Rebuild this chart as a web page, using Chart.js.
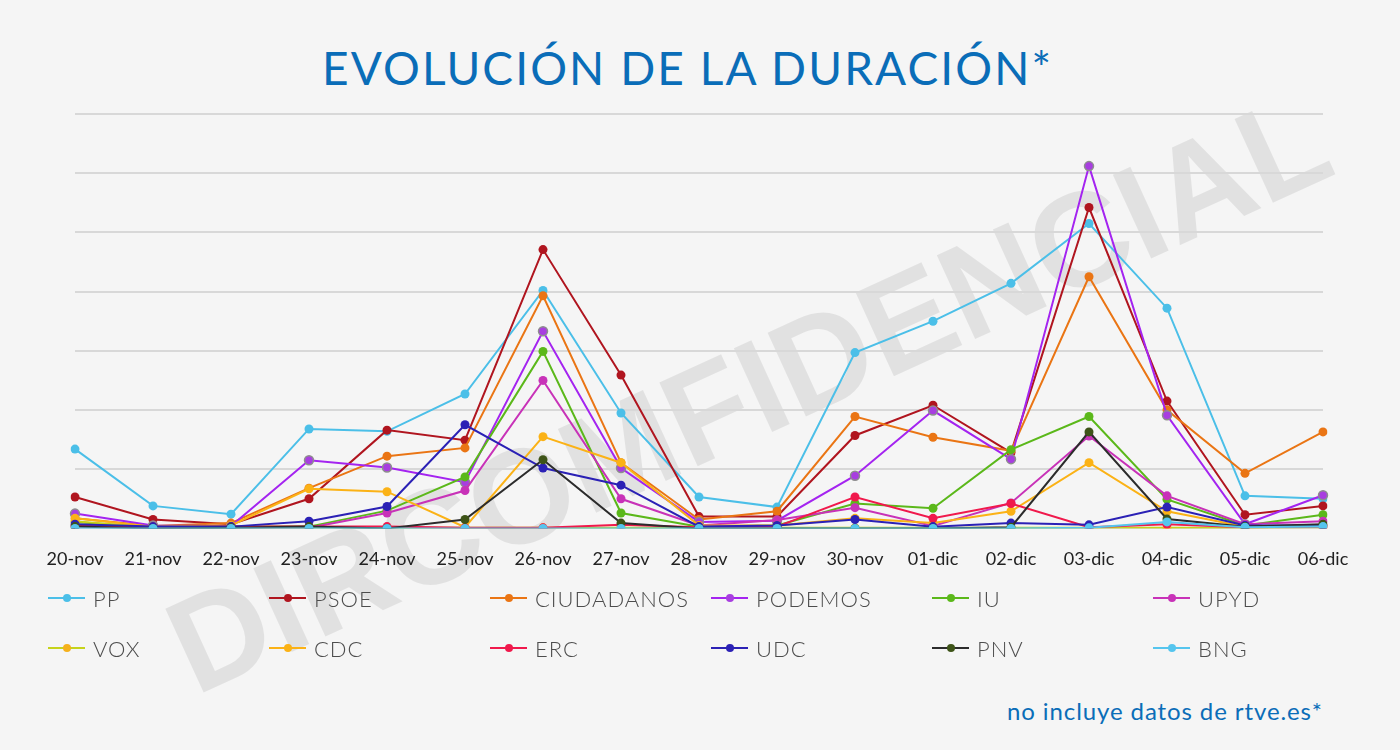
<!DOCTYPE html>
<html>
<head>
<meta charset="utf-8">
<script src="https://cdn.jsdelivr.net/npm/chart.js@4"></script>
<style>
  html, body { margin: 0; padding: 0; }
  body { width: 1400px; height: 750px; background: #f5f5f5; position: relative; overflow: hidden; font-family: Lato, "Open Sans", sans-serif; }
  .title { position: absolute; left: 322px; top: 40px; font-size: 46px; color: #0a6db8; letter-spacing: 2.1px; white-space: nowrap; }
  .watermark { position: absolute; left: 748px; top: 392px; transform: translate(-50%, -50%) rotate(-24.6deg); font-family: "Liberation Sans", Arial, sans-serif; font-weight: bold; font-size: 134px; color: rgba(0,0,0,0.08); white-space: nowrap; z-index: 0; }
  .chart-box { position: absolute; left: 0; top: 0; width: 1400px; height: 590px; z-index: 1; }
  .legend { position: absolute; left: 48px; top: 586px; display: grid; grid-template-columns: repeat(6, 221px); row-gap: 26px; z-index: 1; }
  .legend-item { display: flex; align-items: center; height: 24px; font-size: 22px; font-weight: 300; letter-spacing: 1px; color: #4d4d4d; }
  .legend-line { position: relative; width: 37px; height: 2px; margin-right: 8px; }
  .legend-dot { position: absolute; left: 15px; top: -3px; width: 8px; height: 8px; border-radius: 50%; }
  .note { position: absolute; left: 1007px; top: 696px; font-size: 24px; letter-spacing: 0.9px; color: #0a6db8; z-index: 1; white-space: nowrap; }
</style>
</head>
<body>
<div class="title">EVOLUCIÓN DE LA DURACIÓN*</div>
<div class="watermark">DIRCOMFIDENCIAL</div>
<div class="chart-box"><canvas id="chart" width="1400" height="590"></canvas></div>
<div class="legend" id="legend"></div>
<div class="note">no incluye datos de rtve.es*</div>
<script>
const days = ["20-nov", "21-nov", "22-nov", "23-nov", "24-nov", "25-nov", "26-nov", "27-nov", "28-nov", "29-nov", "30-nov", "01-dic", "02-dic", "03-dic", "04-dic", "05-dic", "06-dic"];

const pp =         [13.4, 3.8, 2.4, 16.8, 16.4, 22.7, 40.2, 19.5, 5.3, 3.6, 29.7, 35.0, 41.4, 51.5, 37.2, 5.5, 5.0];
const psoe =       [5.3, 1.5, 0.7, 5.0, 16.6, 14.9, 47.1, 25.9, 2.0, 2.0, 15.7, 20.8, 12.8, 54.2, 21.5, 2.3, 3.8];
const ciudadanos = [1.7, 0.4, 0.9, 6.8, 12.2, 13.6, 39.3, 11.1, 1.5, 2.9, 18.9, 15.4, 13.1, 42.5, 20.0, 9.3, 16.3];
const podemos =    [2.5, 0.5, 0.4, 11.5, 10.3, 7.8, 33.3, 10.2, 1.1, 1.3, 8.9, 19.9, 11.7, 61.2, 19.1, 0.7, 5.6];
const iu =         [1.1, 0.2, 0.3, 0.3, 3.0, 8.7, 29.9, 2.6, 0.3, 0.5, 4.2, 3.4, 13.3, 18.9, 4.9, 0.5, 2.3];
const upyd =       [0.4, 0.1, 0.1, 0.1, 2.6, 6.4, 25.0, 5.0, 0.5, 1.4, 3.5, 0.4, 4.3, 15.6, 5.5, 0.7, 1.2];
const vox =        [1.2, 0.1, 0.1, 0.1, 0.1, 0.1, 0.1, 0.1, 0.1, 0.1, 0.1, 0.1, 0.1, 0.1, 0.1, 0.1, 0.2];
const cdc =        [1.7, 0.3, 0.5, 6.7, 6.2, 0.2, 15.5, 11.1, 0.5, 0.5, 1.7, 0.9, 2.9, 11.1, 2.9, 0.3, 0.5];
const erc =        [0.5, 0.2, 0.3, 0.3, 0.3, 0.1, 0.1, 0.6, 0.2, 0.3, 5.3, 1.7, 4.2, 0.2, 0.7, 0.2, 0.3];
const udc =        [0.7, 0.3, 0.3, 1.2, 3.7, 17.5, 10.2, 7.3, 0.3, 0.5, 1.5, 0.3, 0.9, 0.6, 3.6, 0.5, 0.5];
const pnv =        [0.3, 0.0, 0.1, 0.3, 0.0, 1.5, 11.6, 0.9, 0.0, 0.0, 0.0, 0.0, 0.2, 16.3, 1.6, 0.3, 0.7];
const bng =        [0, 0, 0, 0, 0, 0, 0, 0, 0, 0, 0, 0, 0, 0.1, 1.1, 0.2, 0.3];

// y ticks are hidden in the original, gridlines every 10
const yMax = 70;
const yStep = 10;

// name, values, line colour, marker fill, marker border
const series = [
  ["PP", pp, "#4bbfe8", "#4bbfe8", "#4bbfe8"],
  ["PSOE", psoe, "#b0151f", "#b0151f", "#b0151f"],
  ["CIUDADANOS", ciudadanos, "#ea7514", "#ea7514", "#ea7514"],
  ["PODEMOS", podemos, "#a424f0", "#a83ee0", "#8e8e8e"],
  ["IU", iu, "#5bb81a", "#5bb81a", "#5bb81a"],
  ["UPYD", upyd, "#c832b8", "#c832b8", "#c832b8"],
  ["VOX", vox, "#c6d31b", "#f5b11d", "#f5b11d"],
  ["CDC", cdc, "#fbb216", "#fbb216", "#fbb216"],
  ["ERC", erc, "#f0194c", "#f0194c", "#f0194c"],
  ["UDC", udc, "#2b21b5", "#2b21b5", "#2b21b5"],
  ["PNV", pnv, "#2c2c2c", "#3e5418", "#3e5418"],
  ["BNG", bng, "#55c5ee", "#55c5ee", "#55c5ee"]
];

const datasets = series.map((s, i) => ({
  label: s[0],
  data: s[1],
  borderColor: s[2],
  backgroundColor: s[3],
  pointBackgroundColor: s[3],
  pointBorderColor: s[4],
  pointBorderWidth: s[4] === s[3] ? 0 : 1.5,
  pointRadius: 4.5,
  borderWidth: 2,
  tension: 0,
  order: series.length - i   // later series on top, like the original
}));

const ctx = document.getElementById("chart").getContext("2d");
const myChart = new Chart(ctx, {
  type: "line",
  data: { labels: days, datasets: datasets },
  options: {
    responsive: false,
    animation: false,
    maintainAspectRatio: false,
    layout: { padding: { top: 114, left: 75, right: 77, bottom: 0 } },
    scales: {
      x: {
        offset: false,
        grid: { display: false, drawTicks: false },
        border: { display: false },
        ticks: { color: "#222", padding: 20, maxRotation: 0, autoSkip: false, font: { family: "Lato", size: 18 } }
      },
      y: {
        min: 0,
        max: yMax,
        ticks: { display: false, stepSize: yStep },
        grid: { color: "#d8d8d8", lineWidth: 2, drawTicks: false },
        border: { display: false }
      }
    },
    plugins: {
      legend: { display: false },
      tooltip: { enabled: false }
    }
  }
});

// legend as a fixed grid, 6 columns
const legendBox = document.getElementById("legend");
series.forEach(s => {
  const item = document.createElement("div");
  item.className = "legend-item";
  item.innerHTML = '<span class="legend-line" style="background:' + s[2] + '"><span class="legend-dot" style="background:' + s[3] + '"></span></span>' + s[0];
  legendBox.appendChild(item);
});
</script>
</body>
</html>
